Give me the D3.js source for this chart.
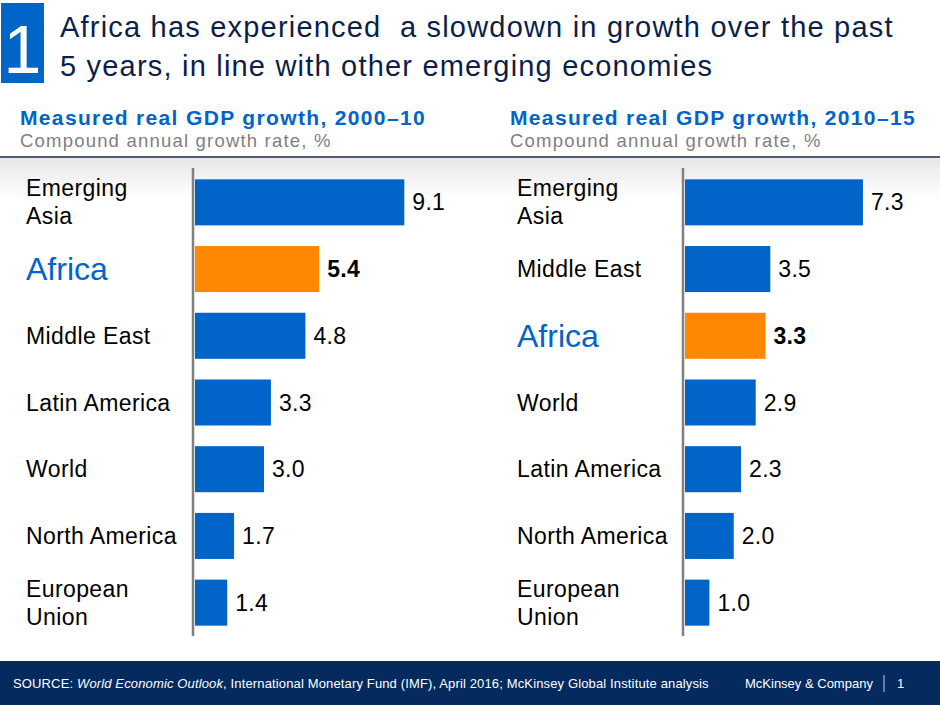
<!DOCTYPE html>
<html>
<head>
<meta charset="utf-8">
<script src="https://cdn.jsdelivr.net/npm/d3@7"></script>
<style>
  html, body { margin: 0; padding: 0; background: #fff; }
  svg { display: block; font-family: Arial, "Liberation Sans", sans-serif; }
</style>
</head>
<body>
<svg id="chart" width="940" height="705"></svg>
<script>
// ---- data ----
const titleLines = ["Africa has experienced  a slowdown in growth over the past", "5 years, in line with other emerging economies"];
const panelTitles = ["Measured real GDP growth, 2000\u201310", "Measured real GDP growth, 2010\u201315"];
const panelSubtitle = "Compound annual growth rate, %";
const categories1 = ["Emerging Asia", "Africa", "Middle East", "Latin America", "World", "North America", "European Union"];
const values1 = [9.1, 5.4, 4.8, 3.3, 3.0, 1.7, 1.4];
const categories2 = ["Emerging Asia", "Middle East", "Africa", "World", "Latin America", "North America", "European Union"];
const values2 = [7.3, 3.5, 3.3, 2.9, 2.3, 2.0, 1.0];
const highlight = "Africa";
const twoLineLabels = { "Emerging Asia": ["Emerging", "Asia"], "European Union": ["European", "Union"] };

const svg = d3.select("#chart");
const NAVY = "#0b1f4a", BLUE = "#0064c8", ORANGE = "#ff8800", GRAY = "#808080";

// background gradient under header line
const defs = svg.append("defs");
const grad = defs.append("linearGradient").attr("id", "hg").attr("x1", 0).attr("x2", 0).attr("y1", 0).attr("y2", 1);
grad.append("stop").attr("offset", "0%").attr("stop-color", "#e6e6e6");
grad.append("stop").attr("offset", "100%").attr("stop-color", "#ffffff");
svg.append("rect").attr("x", 0).attr("y", 158).attr("width", 940).attr("height", 40).attr("fill", "url(#hg)");

// title block
svg.append("rect").attr("x", 1).attr("y", 3).attr("width", 43).attr("height", 80).attr("fill", "#0064c8");
svg.append("text").attr("x", 22.5).attr("y", 73).attr("text-anchor", "middle")
  .attr("fill", "#fff").attr("font-size", 68).text("1");
svg.selectAll("text.title").data(titleLines).join("text")
  .attr("class", "title")
  .attr("x", 60).attr("y", (d, i) => 37 + i * 39)
  .attr("fill", NAVY).attr("font-size", 29)
  .attr("letter-spacing", 1.2)
  .style("white-space", "pre")
  .text(d => d);

// header line
svg.append("line").attr("x1", 0).attr("x2", 940).attr("y1", 157).attr("y2", 157)
  .attr("stroke", "#1a2744").attr("stroke-width", 1.5);

function panel(px, labelX, axisX, maxDom, rangeMax, categories, values, title) {
  const g = svg.append("g");
  g.append("text").attr("x", px).attr("y", 125).attr("fill", BLUE)
    .attr("font-size", 21).attr("font-weight", "bold").attr("letter-spacing", 1.35).text(title);
  g.append("text").attr("x", px).attr("y", 147).attr("fill", GRAY)
    .attr("font-size", 18.5).attr("letter-spacing", 1.2).text(panelSubtitle);

  const y = d3.scaleBand().domain(categories).range([169, 636]).paddingInner(0.31).paddingOuter(0.155);
  const x = d3.scaleLinear().domain([0, maxDom]).range([axisX + 2, rangeMax]);
  const data = categories.map((c, i) => ({ c, v: values[i] }));

  g.selectAll("rect.bar").data(data).join("rect")
    .attr("class", "bar")
    .attr("x", x(0)).attr("y", d => y(d.c))
    .attr("width", d => x(d.v) - x(0)).attr("height", y.bandwidth())
    .attr("fill", d => d.c === highlight ? ORANGE : BLUE);

  g.append("line").attr("x1", axisX).attr("x2", axisX).attr("y1", 168).attr("y2", 636)
    .attr("stroke", GRAY).attr("stroke-width", 2.5);

  g.selectAll("text.val").data(data).join("text")
    .attr("class", "val")
    .attr("x", d => x(d.v) + 8)
    .attr("y", d => y(d.c) + y.bandwidth() / 2 + 8)
    .attr("font-size", 23)
    .attr("letter-spacing", 0.3)
    .attr("font-weight", d => d.c === highlight ? "bold" : "normal")
    .attr("fill", "#000")
    .text(d => d3.format(".1f")(d.v));

  data.forEach(d => {
    const cy = y(d.c) + y.bandwidth() / 2;
    if (d.c === highlight) {
      g.append("text").attr("x", labelX).attr("y", cy + 11).attr("font-size", 32)
        .attr("fill", BLUE).text(d.c);
    } else {
      const lines = twoLineLabels[d.c] || [d.c];
      const lh = 28;
      lines.forEach((ln, i) => {
        g.append("text").attr("x", labelX)
          .attr("y", cy + 8 + (i - (lines.length - 1) / 2) * lh)
          .attr("font-size", 23).attr("letter-spacing", 0.4).attr("fill", "#000").text(ln);
      });
    }
  });
}

panel(20, 26, 193, 10, 425, categories1, values1, panelTitles[0]);
panel(510, 517, 683, 8, 880, categories2, values2, panelTitles[1]);

// footer
svg.append("rect").attr("x", 0).attr("y", 661).attr("width", 940).attr("height", 44).attr("fill", "#052a5e");
const ft = svg.append("text").attr("x", 13).attr("y", 688).attr("fill", "#fff").attr("font-size", 13).attr("letter-spacing", 0.14);
ft.append("tspan").text("SOURCE: ");
ft.append("tspan").attr("font-style", "italic").text("World Economic Outlook");
ft.append("tspan").text(", International Monetary Fund (IMF), April 2016; McKinsey Global Institute analysis");
svg.append("text").attr("x", 745).attr("y", 688).attr("fill", "#fff").attr("font-size", 13).text("McKinsey & Company");
svg.append("line").attr("x1", 884).attr("x2", 884).attr("y1", 675).attr("y2", 692).attr("stroke", "#9fb3d1").attr("stroke-width", 1.2);
svg.append("text").attr("x", 897).attr("y", 688).attr("fill", "#fff").attr("font-size", 13).text("1");
</script>
</body>
</html>
